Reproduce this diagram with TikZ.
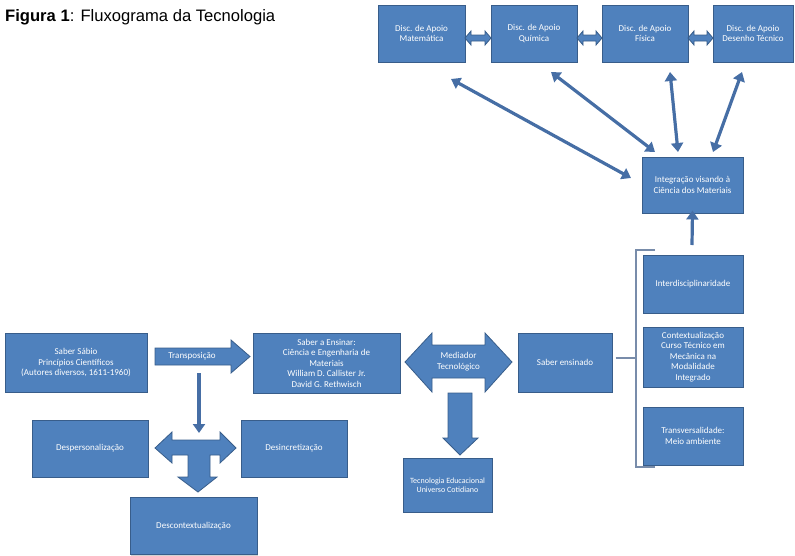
\documentclass[tikz,border=0pt]{standalone}
\usepackage{fontspec}
\setmainfont{Liberation Sans}
\newfontfamily\boxfont{Carlito}
\usetikzlibrary{arrows.meta,shadows}
\definecolor{boxblue}{RGB}{79,129,189}
\definecolor{boxedge}{RGB}{56,93,138}
\definecolor{linkblue}{RGB}{70,110,165}
\definecolor{bracketgray}{RGB}{120,140,170}
\tikzset{
  box/.style={draw=boxedge, fill=boxblue, line width=1pt, text=white,
    align=center, inner sep=1pt,
    font=\boxfont\fontsize{9}{10.5}\selectfont,
    drop shadow={shadow xshift=1.2pt, shadow yshift=-1.2pt, opacity=0.35, fill=gray}},
  blockarrow/.style={draw=boxedge, fill=boxblue, line width=0.8pt, line join=miter},
  arrowtext/.style={text=white, align=center, font=\boxfont\fontsize{9}{10.5}\selectfont},
  link/.style={draw=linkblue, line width=3.2pt, {Triangle[length=9pt,width=12pt]}-{Triangle[length=9pt,width=12pt]}},
  uplink/.style={draw=linkblue, line width=3.2pt, -{Triangle[length=9pt,width=12pt]}},
  bracket/.style={draw=bracketgray, line width=1.6pt}
}
\begin{document}
\begin{tikzpicture}[x=1pt,y=-1pt]
\useasboundingbox (0,0) rectangle (795,555);

% title
\node[anchor=west, font=\fontsize{16.6}{18}\selectfont, inner sep=0pt] (title) at (5,17)
  {\textbf{Figura 1}: Fluxograma da Tecnologia};

% supporting subjects (top row)
\node[box, minimum width=87pt, minimum height=57pt] (mat) at (421.5,33.5) {Disc. de Apoio\\Matemática};
\node[box, minimum width=86pt, minimum height=57pt] (qui) at (534,33.5) {Disc. de Apoio\\Química};
\node[box, minimum width=86pt, minimum height=57pt] (fis) at (645,33.5) {Disc. de Apoio\\Física};
\node[box, minimum width=80pt, minimum height=57pt] (des) at (753,33.5) {Disc. de Apoio\\Desenho Técnico};

% small double block arrows between the top boxes
\foreach \xa/\xb in {465/491, 577/602, 688/713}{
  \filldraw[blockarrow] (\xa,38) -- (\xa+6,31) -- (\xa+6,35) -- (\xb-6,35) -- (\xb-6,31)
    -- (\xb,38) -- (\xb-6,45) -- (\xb-6,41) -- (\xa+6,41) -- (\xa+6,45) -- cycle;
}

% integration box
\node[box, minimum width=101pt, minimum height=56pt] (integ) at (692.5,185) {Integração visando à\\Ciência dos Materiais};

% links between the top row and the integration box
\coordinate (m1) at (451,79);  \coordinate (i1) at (631,178);
\coordinate (m2) at (551,72);  \coordinate (i2) at (655,152);
\coordinate (m3) at (670,72);  \coordinate (i3) at (678,152);
\coordinate (m4) at (742,72);  \coordinate (i4) at (713,152);
\draw[link] (m1) -- (i1);
\draw[link] (m2) -- (i2);
\draw[link] (m3) -- (i3);
\draw[link] (m4) -- (i4);

% right column
\node[box, minimum width=100pt, minimum height=58pt] (inter) at (693,284) {Interdisciplinaridade};
\node[box, minimum width=100pt, minimum height=60pt] (cont) at (693,357)
  {Contextualização\\Curso Técnico em\\Mecânica na\\Modalidade\\Integrado};
\node[box, minimum width=100pt, minimum height=58pt] (meio) at (693,436) {Transversalidade:\\Meio ambiente};

\coordinate (colTop) at (692,245);
\draw[uplink] (colTop) -- ([yshift=3pt]integ.south);

% bracket grouping the right column, joined to the taught-knowledge box
\coordinate (bTop) at (655,250);
\coordinate (bBot) at (655,467);
\coordinate (bMid) at (636,358);
\draw[bracket] (bTop) -- (636,250) -- (636,467) -- (bBot);

% main row
\node[box, minimum width=142pt, minimum height=59pt] (sabio) at (76,362.5)
  {Saber Sábio\\Princípios Científicos\\(Autores diversos, 1611-1960)};
\node[box, minimum width=147pt, minimum height=60pt] (ensinar) at (326.5,363)
  {Saber a Ensinar:\\Ciência e Engenharia de\\Materiais\\William D. Callister Jr.\\David G. Rethwisch};
\node[box, minimum width=94pt, minimum height=59pt] (ensinado) at (565,362.5) {Saber ensinado};
\draw[bracket] ([xshift=3pt]ensinado.east |- bMid) -- (bMid);

% transposition block arrow
\filldraw[blockarrow] (155,348) -- (231,348) -- (231,340) -- (250,356.5) -- (231,373)
  -- (231,365) -- (155,365) -- cycle;
\node[arrowtext] (transp) at (192,356.5) {Transposição};

% mediator double block arrow
\filldraw[blockarrow] (405,362) -- (432,333) -- (432,345) -- (485,345) -- (485,333)
  -- (512,362) -- (485,392) -- (485,378) -- (432,378) -- (432,392) -- cycle;
\node[arrowtext] (medi) at (458.5,361.5) {Mediador\\Tecnológico};

% down block arrow to technology box
\filldraw[blockarrow] (448,393) -- (472,393) -- (472,438) -- (478,438) -- (460,455)
  -- (443,438) -- (448,438) -- cycle;
\node[box, minimum width=89pt, minimum height=54pt,
  font=\boxfont\fontsize{8}{9.5}\selectfont] (tecno) at (447.5,485)
  {Tecnologia Educacional\\Universo Cotidiano};

% lower branch
\node[box, minimum width=116pt, minimum height=57pt] (desp) at (90,448.5) {Despersonalização};
\node[box, minimum width=106pt, minimum height=57pt] (desinc) at (294,448.5) {Desincretização};
\node[box, minimum width=127pt, minimum height=57pt] (descont) at (193.5,526) {Descontextualização};

\coordinate (tStart) at (199,373);
\coordinate (tEnd) at (199,433);
\draw[uplink] (tStart) -- (tEnd);

% T-shaped block arrow
\filldraw[blockarrow] (155,448) -- (172,432) -- (172,440) -- (220,440) -- (220,432)
  -- (236,448) -- (220,463) -- (220,455) -- (210,455) -- (210,477) -- (217,477)
  -- (198,492) -- (178,477) -- (188,477) -- (188,455) -- (172,455) -- (172,463) -- cycle;
\end{tikzpicture}
\end{document}
